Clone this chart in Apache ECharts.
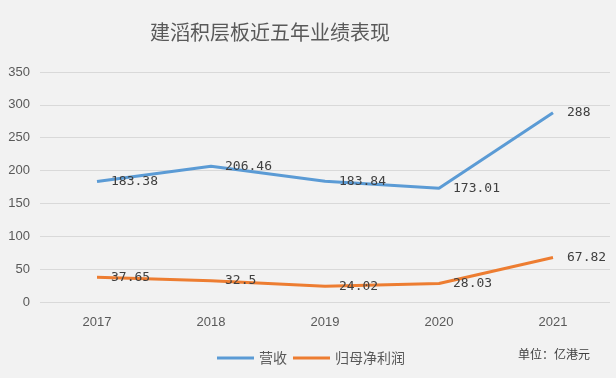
<!DOCTYPE html>
<html>
<head>
    <meta charset="utf-8">
    <title>建滔积层板近五年业绩表现</title>
    <script src="https://cdn.jsdelivr.net/npm/echarts@6/dist/echarts.min.js"></script>
    <style>
        html, body { margin: 0; padding: 0; background: #f2f2f2; }
        #main { width: 616px; height: 378px; }
    </style>
</head>
<body>
<div id="main"></div>
<script>
    // 数据
    var years = ['2017', '2018', '2019', '2020', '2021'];
    var revenue = [183.38, 206.46, 183.84, 173.01, 288];
    var netProfit = [37.65, 32.5, 24.02, 28.03, 67.82];

    var myChart = echarts.init(document.getElementById('main'));

    var labelStyle = {
        show: true,
        position: 'right',
        distance: 14,
        color: '#404040',
        fontSize: 13,
        fontFamily: 'DejaVu Sans Mono'
    };

    var option = {
        backgroundColor: '#f2f2f2',
        title: {
            text: '建滔积层板近五年业绩表现',
            left: 145,
            top: 17,
            textStyle: {
                fontFamily: 'Noto Sans CJK SC',
                fontSize: 20,
                fontWeight: 'normal',
                color: '#595959'
            }
        },
        legend: {
            data: ['营收', '归母净利润'],
            left: 212,
            top: 346,
            icon: 'rect',
            itemWidth: 37,
            itemHeight: 3,
            itemGap: 6,
            textStyle: {
                fontFamily: 'Noto Sans CJK SC',
                fontSize: 14,
                color: '#595959'
            }
        },
        graphic: [{
            type: 'text',
            left: 518,
            top: 348,
            style: {
                text: '单位：亿港元',
                fontFamily: 'Noto Sans CJK SC',
                fontSize: 12,
                fill: '#404040'
            }
        }],
        grid: {
            left: 40,
            right: 6,
            top: 72,
            bottom: 76
        },
        xAxis: {
            type: 'category',
            data: years,
            boundaryGap: true,
            axisLine: { show: false },
            axisTick: { show: false },
            axisLabel: {
                color: '#595959',
                fontSize: 13,
                margin: 14,
                fontFamily: 'Liberation Sans'
            }
        },
        yAxis: {
            type: 'value',
            min: 0,
            max: 350,
            interval: 50,
            axisLine: { show: false },
            axisTick: { show: false },
            axisLabel: {
                color: '#595959',
                fontSize: 13,
                margin: 10,
                fontFamily: 'Liberation Sans'
            },
            splitLine: { lineStyle: { color: '#d9d9d9', width: 1 } }
        },
        series: [
            {
                name: '营收',
                type: 'line',
                data: revenue,
                symbol: 'circle',
                symbolSize: 0,
                lineStyle: { color: '#5b9bd5', width: 3 },
                itemStyle: { color: '#5b9bd5' },
                label: labelStyle
            },
            {
                name: '归母净利润',
                type: 'line',
                data: netProfit,
                symbol: 'circle',
                symbolSize: 0,
                lineStyle: { color: '#ed7d31', width: 3 },
                itemStyle: { color: '#ed7d31' },
                label: labelStyle
            }
        ]
    };

    myChart.setOption(option);
</script>
</body>
</html>
